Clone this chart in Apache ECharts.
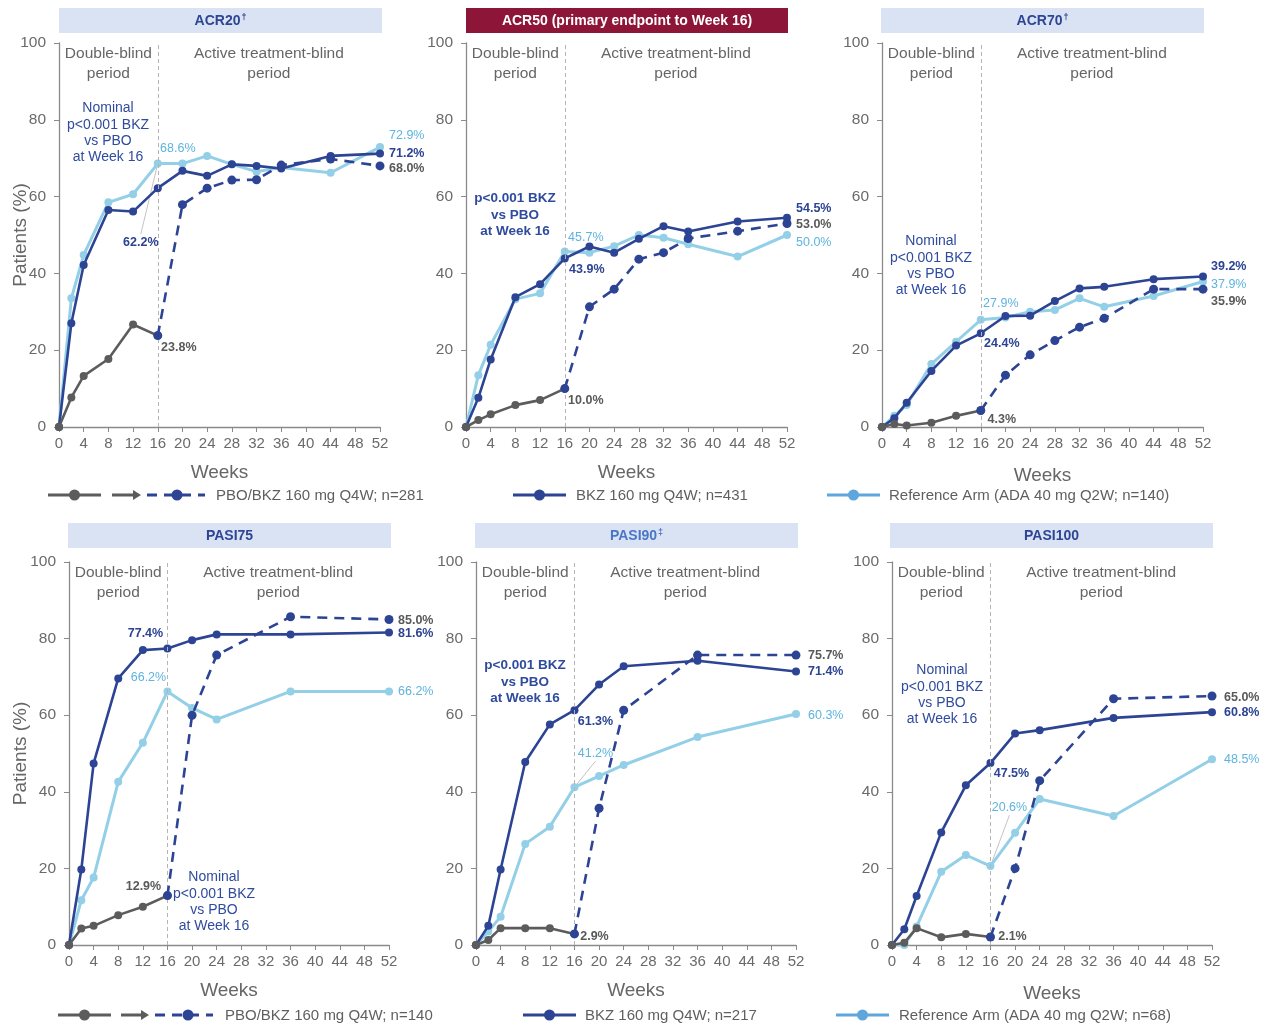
<!DOCTYPE html>
<html>
<head>
<meta charset="utf-8">
<script src="https://cdn.jsdelivr.net/npm/echarts@6/dist/echarts.min.js"></script>
<style>
html,body{margin:0;padding:0;background:#fff;}
#chart{width:1271px;height:1026px;}
</style>
</head>
<body>
<div id="chart"></div>
<script>
// ---- Visit weeks ----
const acrWeeks = [0, 2, 4, 8, 12, 16, 20, 24, 28, 32, 36, 44, 52];
const acrPboWeeks = [0, 2, 4, 8, 12, 16];
const acrSwitchWeeks = [16, 20, 24, 28, 32, 36, 44, 52];
const pasiWeeks = [0, 2, 4, 8, 12, 16, 20, 24, 36, 52];
const pasiPboWeeks = [0, 2, 4, 8, 12, 16];
const pasiSwitchWeeks = [16, 20, 24, 36, 52];
const weekTicks = [0, 4, 8, 12, 16, 20, 24, 28, 32, 36, 40, 44, 48, 52];
const percentTicks = [0, 20, 40, 60, 80, 100];

// ---- ACR20 (% patients) ----
const acr20Bkz = [0, 27.0, 42.2, 56.5, 56.1, 62.2, 66.7, 65.4, 68.4, 68.0, 67.3, 70.6, 71.2];
const acr20Ada = [0, 33.5, 44.8, 58.5, 60.6, 68.6, 68.6, 70.6, 68.4, 66.5, 67.6, 66.2, 72.9];
const acr20Pbo = [0, 7.7, 13.3, 17.7, 26.7, 23.8];
const acr20Switch = [23.8, 57.9, 62.2, 64.3, 64.4, 68.2, 69.8, 68.0];

// ---- ACR50 ----
const acr50Bkz = [0, 7.6, 17.6, 33.8, 37.2, 43.9, 47.0, 45.4, 49.0, 52.3, 50.9, 53.5, 54.5];
const acr50Ada = [0, 13.5, 21.4, 33.3, 34.8, 45.7, 45.4, 47.1, 50.0, 49.3, 47.6, 44.4, 50.0];
const acr50Pbo = [0, 1.8, 3.3, 5.7, 7.0, 10.0];
const acr50Switch = [10.0, 31.3, 35.9, 43.7, 45.4, 49.1, 51.0, 53.0];

// ---- ACR70 ----
const acr70Bkz = [0, 2.3, 6.3, 14.6, 21.2, 24.4, 28.9, 29.0, 32.8, 36.1, 36.5, 38.5, 39.2];
const acr70Ada = [0, 2.9, 5.7, 16.4, 22.2, 27.9, 28.5, 30.0, 30.5, 33.5, 31.3, 34.1, 37.9];
const acr70Pbo = [0, 0.8, 0.4, 1.1, 2.9, 4.3];
const acr70Switch = [4.3, 13.5, 18.8, 22.5, 26.0, 28.3, 35.9, 35.9];

// ---- PASI75 ----
const pasi75Bkz = [0, 19.7, 47.4, 69.6, 77.0, 77.4, 79.6, 81.1, 81.1, 81.6];
const pasi75Ada = [0, 11.7, 17.6, 42.6, 52.8, 66.2, 61.9, 58.9, 66.2, 66.2];
const pasi75Pbo = [0, 4.3, 5.0, 7.8, 10.0, 12.9];
const pasi75Switch = [12.9, 60.0, 75.7, 85.7, 85.0];

// ---- PASI90 ----
const pasi90Bkz = [0, 5.0, 19.7, 47.8, 57.6, 61.3, 68.0, 72.8, 74.2, 71.4];
const pasi90Ada = [0, 3.5, 7.4, 26.4, 30.9, 41.2, 44.1, 47.0, 54.3, 60.3];
const pasi90Pbo = [0, 1.3, 4.4, 4.4, 4.4, 2.9];
const pasi90Switch = [2.9, 35.7, 61.3, 75.7, 75.7];

// ---- PASI100 ----
const pasi100Bkz = [0, 4.1, 12.8, 29.4, 41.7, 47.5, 55.2, 56.1, 59.3, 60.8];
const pasi100Ada = [0, 0, 4.8, 19.1, 23.5, 20.6, 29.3, 38.1, 33.7, 48.5];
const pasi100Pbo = [0, 0.6, 4.4, 2.0, 2.9, 2.1];
const pasi100Switch = [2.1, 20.0, 42.9, 64.3, 65.0];

// ---- Panel titles / texts ----
const panelTitles = ['ACR20', 'ACR50 (primary endpoint to Week 16)', 'ACR70', 'PASI75', 'PASI90', 'PASI100'];
const panelTitleMarks = ['†', '', '†', '', '‡', ''];
const periodNames = ['Double-blind\nperiod', 'Active treatment-blind\nperiod'];
const notes = [
  'Nominal\np<0.001 BKZ\nvs PBO\nat Week 16',
  'p<0.001 BKZ\nvs PBO\nat Week 16',
  'Nominal\np<0.001 BKZ\nvs PBO\nat Week 16',
  'Nominal\np<0.001 BKZ\nvs PBO\nat Week 16',
  'p<0.001 BKZ\nvs PBO\nat Week 16',
  'Nominal\np<0.001 BKZ\nvs PBO\nat Week 16'
];
const legendTop = ['PBO/BKZ 160 mg Q4W; n=281', 'BKZ 160 mg Q4W; n=431', 'Reference Arm (ADA 40 mg Q2W; n=140)'];
const legendBottom = ['PBO/BKZ 160 mg Q4W; n=140', 'BKZ 160 mg Q4W; n=217', 'Reference Arm (ADA 40 mg Q2W; n=68)'];

const FONT = '"Liberation Sans", Arial, Helvetica, sans-serif';
const C = {
  bkz: '#2c4493', ada: '#93cfe7', adaText: '#5db4de', adaLegend: '#5ea6dc',
  pbo: '#5c5c5c', pboText: '#595959', axis: '#8a8a8a', tickText: '#6a6a6a',
  note: '#2f4b9e', titleBg: '#dae3f3', titleText: '#2e4594', title90: '#4a76c8',
  primaryBg: '#8c1538', divider: '#b4b4b4', leader: '#c4c4c4'
};

// ---- Panel layout and label placement ----
const panels = [
  { weeks: acrWeeks, pboWeeks: acrPboWeeks, swWeeks: acrSwitchWeeks,
    bkz: acr20Bkz, ada: acr20Ada, pbo: acr20Pbo, sw: acr20Switch,
    grid: { left: 59, top: 43, width: 321, height: 384 },
    titleBox: [59, 8, 323, 25], titleColor: C.titleText, titleBg: C.titleBg,
    yName: true, yNameGap: 29, xNameGap: 36, endDx: 9,
    off16: { ada: [20, -15], bkz: [-17, 54], pbo: [21, 12] }, endDy: { ada: -12, bkz: 0, sw: 3 },
    leader: 'bkz', leaderFrom: 'ada', note: [108, 133, false] },
  { weeks: acrWeeks, pboWeeks: acrPboWeeks, swWeeks: acrSwitchWeeks,
    bkz: acr50Bkz, ada: acr50Ada, pbo: acr50Pbo, sw: acr50Switch,
    grid: { left: 466, top: 43, width: 321, height: 384 },
    titleBox: [466, 8, 322, 25], titleColor: '#ffffff', titleBg: C.primaryBg,
    yName: false, xNameGap: 36, endDx: 9,
    off16: { ada: [21, -14], bkz: [22, 11], pbo: [21, 12] }, endDy: { ada: 8, bkz: -9, sw: 1 },
    leader: null, note: [515, 215, true] },
  { weeks: acrWeeks, pboWeeks: acrPboWeeks, swWeeks: acrSwitchWeeks,
    bkz: acr70Bkz, ada: acr70Ada, pbo: acr70Pbo, sw: acr70Switch,
    grid: { left: 882, top: 43, width: 321, height: 384 },
    titleBox: [881, 8, 323, 25], titleColor: C.titleText, titleBg: C.titleBg,
    yName: false, xNameGap: 39, endDx: 8,
    off16: { ada: [20, -16], bkz: [21, 10], pbo: [21, 9] }, endDy: { ada: 3, bkz: -10, sw: 12 },
    leader: null, note: [931, 266, false] },
  { weeks: pasiWeeks, pboWeeks: pasiPboWeeks, swWeeks: pasiSwitchWeeks,
    bkz: pasi75Bkz, ada: pasi75Ada, pbo: pasi75Pbo, sw: pasi75Switch,
    grid: { left: 69, top: 562, width: 320, height: 383 },
    titleBox: [68, 523, 323, 25], titleColor: C.titleText, titleBg: C.titleBg,
    yName: true, yNameGap: 39, xNameGap: 36, endDx: 9,
    off16: { ada: [-19, -14], bkz: [-22, -15], pbo: [-24, -9] }, endDy: { ada: 0, bkz: 1, sw: 1 },
    leader: null, note: [214, 902, false] },
  { weeks: pasiWeeks, pboWeeks: pasiPboWeeks, swWeeks: pasiSwitchWeeks,
    bkz: pasi90Bkz, ada: pasi90Ada, pbo: pasi90Pbo, sw: pasi90Switch,
    grid: { left: 476, top: 562, width: 320, height: 383 },
    titleBox: [475, 523, 323, 25], titleColor: C.title90, titleBg: C.titleBg,
    yName: false, xNameGap: 36, endDx: 12,
    off16: { ada: [21, -34], bkz: [21, 11], pbo: [20, 3] }, endDy: { ada: 1, bkz: 0, sw: 0 },
    leader: 'ada', note: [525, 682, true] },
  { weeks: pasiWeeks, pboWeeks: pasiPboWeeks, swWeeks: pasiSwitchWeeks,
    bkz: pasi100Bkz, ada: pasi100Ada, pbo: pasi100Pbo, sw: pasi100Switch,
    grid: { left: 892, top: 562, width: 320, height: 383 },
    titleBox: [890, 523, 323, 25], titleColor: C.titleText, titleBg: C.titleBg,
    yName: false, xNameGap: 39, endDx: 12,
    off16: { ada: [19, -59], bkz: [21, 10], pbo: [22, 0] }, endDy: { ada: 0, bkz: 0, sw: 1 },
    leader: 'ada', note: [942, 695, false] }
];

const fmt = v => v.toFixed(1) + '%';
const pairs = (weeks, vals) => weeks.map((w, i) => [w, vals[i]]);

function labelStyle(kind, offset, align) {
  const s = {
    show: true, position: 'inside', offset: offset, align: align, verticalAlign: 'middle',
    fontFamily: FONT, fontSize: 12.5, textBorderWidth: 0,
    formatter: p => fmt(p.value[1])
  };
  if (kind === 'ada') { s.color = C.adaText; s.fontWeight = 'normal'; }
  else if (kind === 'bkz') { s.color = C.bkz; s.fontWeight = 'bold'; }
  else { s.color = C.pboText; s.fontWeight = 'bold'; }
  return s;
}

function withLabels(data, marks) {
  return data.map((d, i) => marks[i] ? { value: d, label: marks[i] } : d);
}

const grids = [], xAxes = [], yAxes = [], series = [];

panels.forEach((P, gi) => {
  grids.push(Object.assign({ outerBoundsMode: 'none', containLabel: false }, P.grid));
  xAxes.push({
    type: 'value', gridIndex: gi, min: weekTicks[0], max: weekTicks[weekTicks.length - 1], interval: 4,
    name: 'Weeks', nameLocation: 'middle', nameGap: P.xNameGap, nameMoveOverlap: false,
    nameTextStyle: { fontFamily: FONT, fontSize: 19, color: '#666666' },
    axisLine: { show: true, onZero: false, lineStyle: { color: C.axis, width: 1.3 } },
    axisTick: { show: true, length: 5, lineStyle: { color: C.axis } },
    axisLabel: { fontFamily: FONT, fontSize: 15, color: C.tickText, margin: 9 },
    splitLine: { show: false }
  });
  yAxes.push({
    type: 'value', gridIndex: gi, min: percentTicks[0], max: percentTicks[percentTicks.length - 1], interval: 20,
    name: P.yName ? 'Patients (%)' : '', nameLocation: 'middle', nameGap: P.yNameGap || 30, nameMoveOverlap: false,
    nameTextStyle: { fontFamily: FONT, fontSize: 19, color: '#666666' },
    axisLine: { show: true, lineStyle: { color: C.axis, width: 1.3 } },
    axisTick: { show: true, length: 5, lineStyle: { color: C.axis } },
    axisLabel: { fontFamily: FONT, fontSize: 15.5, color: C.tickText, margin: 13 },
    splitLine: { show: false }
  });

  const i16 = P.weeks.indexOf(16);
  const last = P.weeks.length - 1;

  const adaMarks = [];
  adaMarks[i16] = labelStyle('ada', P.off16.ada, 'center');
  adaMarks[last] = labelStyle('ada', [P.endDx, P.endDy.ada], 'left');
  const bkzMarks = [];
  bkzMarks[i16] = labelStyle('bkz', P.off16.bkz, 'center');
  bkzMarks[last] = labelStyle('bkz', [P.endDx, P.endDy.bkz], 'left');
  const pboMarks = [];
  pboMarks[P.pboWeeks.length - 1] = labelStyle('pbo', P.off16.pbo, 'center');
  const swMarks = [];
  swMarks[P.swWeeks.length - 1] = labelStyle('sw', [P.endDx, P.endDy.sw], 'left');

  const common = { type: 'line', xAxisIndex: gi, yAxisIndex: gi, symbol: 'circle', silent: true, animation: false, emphasis: { disabled: true } };

  series.push(Object.assign({}, common, {
    name: 'ADA', z: 2, symbolSize: 8,
    data: withLabels(pairs(P.weeks, P.ada), adaMarks),
    lineStyle: { color: C.ada, width: 3 }, itemStyle: { color: C.ada },
    markArea: {
      silent: true, itemStyle: { color: 'rgba(0,0,0,0)' },
      label: { show: true, position: 'insideTop', distance: 1, fontFamily: FONT, fontSize: 15.5, lineHeight: 20, color: '#666666' },
      data: [
        [{ xAxis: 0, name: periodNames[0] }, { xAxis: 16 }],
        [{ xAxis: 16, name: periodNames[1] }, { xAxis: 52 }]
      ]
    }
  }));
  series.push(Object.assign({}, common, {
    name: 'BKZ', z: 3, symbolSize: 8,
    data: withLabels(pairs(P.weeks, P.bkz), bkzMarks),
    lineStyle: { color: C.bkz, width: 2.6 }, itemStyle: { color: C.bkz }
  }));
  series.push(Object.assign({}, common, {
    name: 'PBO', z: 4, symbolSize: 8,
    data: withLabels(pairs(P.pboWeeks, P.pbo), pboMarks),
    lineStyle: { color: C.pbo, width: 2.6 }, itemStyle: { color: C.pbo },
    markLine: {
      silent: true, symbol: 'none', animation: false,
      label: { show: false },
      lineStyle: { color: C.divider, type: [4, 3], width: 1 },
      data: [{ xAxis: 16 }]
    }
  }));
  series.push(Object.assign({}, common, {
    name: 'PBO/BKZ', z: 5, symbolSize: 9,
    data: withLabels(pairs(P.swWeeks, P.sw), swMarks),
    lineStyle: { color: C.bkz, width: 2.6, type: [10, 7] }, itemStyle: { color: C.bkz }
  }));
});

const chart = echarts.init(document.getElementById('chart'), null, { renderer: 'canvas' });
chart.setOption({
  backgroundColor: '#ffffff',
  animation: false,
  textStyle: { fontFamily: FONT },
  grid: grids, xAxis: xAxes, yAxis: yAxes, series: series
});

// ---- Decorations: panel headers, notes, leader lines, legends ----
const g = [];

panels.forEach((P, gi) => {
  const [bx, by, bw, bh] = P.titleBox;
  g.push({ type: 'rect', silent: true, shape: { x: bx, y: by, width: bw, height: bh }, style: { fill: P.titleBg } });
  const mark = panelTitleMarks[gi];
  g.push({
    type: 'text', silent: true, z: 10,
    style: {
      x: bx + bw / 2, y: by + bh / 2 + 0.5, align: 'center', verticalAlign: 'middle',
      text: '{t|' + panelTitles[gi] + '}' + (mark ? '{s|' + mark + '}' : ''),
      rich: {
        t: { fontFamily: FONT, fontSize: 14, fontWeight: 'bold', fill: P.titleColor },
        s: { fontFamily: FONT, fontSize: 9, fontWeight: 'bold', fill: P.titleColor, padding: [0, 0, 7, 1] }
      }
    }
  });

  const [nx, ny, bold] = P.note;
  g.push({
    type: 'text', silent: true, z: 10,
    style: {
      x: nx, y: ny, align: 'center', verticalAlign: 'middle', text: notes[gi],
      fontFamily: FONT, fontSize: bold ? 13.5 : 14, fontWeight: bold ? 'bold' : 'normal',
      lineHeight: 16.3, fill: C.note
    }
  });

  if (P.leader) {
    // thin guide from the week-16 point up/down to its value label
    const i16 = P.weeks.indexOf(16);
    const v = P[P.leader][i16];
    const p = chart.convertToPixel({ gridIndex: gi }, [16, v]);
    const off = P.off16[P.leader];
    const L = [p[0] + off[0], p[1] + off[1]];
    const end = [L[0], L[1] + (L[1] > p[1] ? -8 : 8)];
    const src = P.leaderFrom ? chart.convertToPixel({ gridIndex: gi }, [16, P[P.leaderFrom][i16]]) : p;
    const dx = end[0] - src[0], dy = end[1] - src[1], len = Math.hypot(dx, dy);
    const start = [src[0] + dx / len * 3, src[1] + dy / len * 3];
    g.push({ type: 'line', silent: true, z: 1, shape: { x1: start[0], y1: start[1], x2: end[0], y2: end[1] }, style: { stroke: C.leader, lineWidth: 1 } });
  }
});

function legendRow(y, names, pos) {
  // placebo -> switch glyph
  g.push({ type: 'line', silent: true, shape: { x1: pos.g0, y1: y, x2: pos.g1, y2: y }, style: { stroke: C.pbo, lineWidth: 3 } });
  g.push({ type: 'circle', silent: true, shape: { cx: (pos.g0 + pos.g1) / 2, cy: y, r: 5.5 }, style: { fill: C.pbo } });
  g.push({ type: 'line', silent: true, shape: { x1: pos.a0, y1: y, x2: pos.a1 - 4, y2: y }, style: { stroke: C.pbo, lineWidth: 3 } });
  g.push({ type: 'polygon', silent: true, shape: { points: [[pos.a1 - 7, y - 5], [pos.a1 + 1, y], [pos.a1 - 7, y + 5]] }, style: { fill: C.pbo } });
  g.push({ type: 'line', silent: true, shape: { x1: pos.d0, y1: y, x2: pos.d1, y2: y }, style: { stroke: C.bkz, lineWidth: 3, lineDash: [10, 7] } });
  g.push({ type: 'circle', silent: true, shape: { cx: pos.dc, cy: y, r: 5.5 }, style: { fill: C.bkz } });
  g.push({ type: 'text', silent: true, style: { x: pos.t1, y: y + 1, text: names[0], verticalAlign: 'middle', fontFamily: FONT, fontSize: 15, fill: '#5f5f5f' } });
  // BKZ glyph
  g.push({ type: 'line', silent: true, shape: { x1: pos.b0, y1: y, x2: pos.b1, y2: y }, style: { stroke: C.bkz, lineWidth: 3 } });
  g.push({ type: 'circle', silent: true, shape: { cx: (pos.b0 + pos.b1) / 2, cy: y, r: 5.5 }, style: { fill: C.bkz } });
  g.push({ type: 'text', silent: true, style: { x: pos.t2, y: y + 1, text: names[1], verticalAlign: 'middle', fontFamily: FONT, fontSize: 15, fill: '#5f5f5f' } });
  // ADA glyph
  g.push({ type: 'line', silent: true, shape: { x1: pos.r0, y1: y, x2: pos.r1, y2: y }, style: { stroke: C.adaLegend, lineWidth: 3 } });
  g.push({ type: 'circle', silent: true, shape: { cx: (pos.r0 + pos.r1) / 2, cy: y, r: 5.5 }, style: { fill: C.adaLegend } });
  g.push({ type: 'text', silent: true, style: { x: pos.t3, y: y + 1, text: names[2], verticalAlign: 'middle', fontFamily: FONT, fontSize: 15, fill: '#5f5f5f' } });
}

legendRow(495, legendTop, { g0: 48, g1: 101, a0: 112, a1: 140, d0: 147, d1: 205, dc: 177, t1: 216, b0: 513, b1: 566, t2: 576, r0: 827, r1: 880, t3: 889 });
legendRow(1015, legendBottom, { g0: 58, g1: 111, a0: 121, a1: 148, d0: 155, d1: 213, dc: 188, t1: 225, b0: 523, b1: 576, t2: 585, r0: 836, r1: 889, t3: 899 });

chart.setOption({ graphic: g });
</script>
</body>
</html>
